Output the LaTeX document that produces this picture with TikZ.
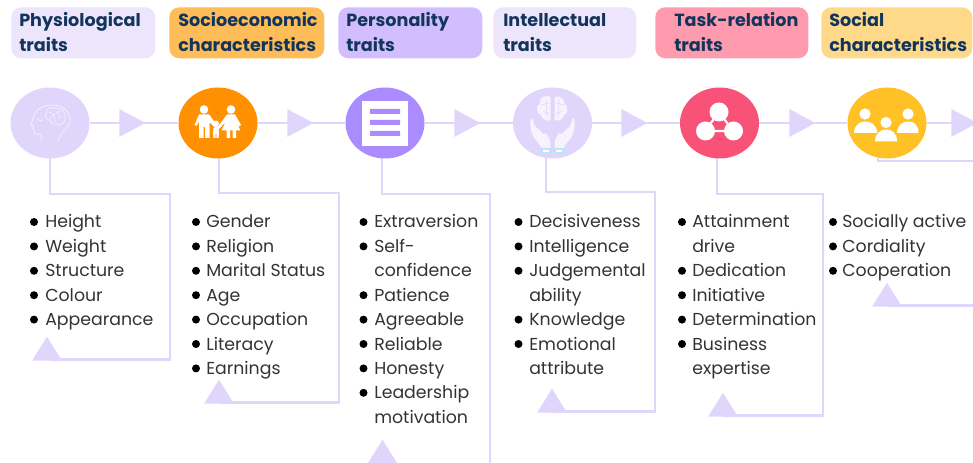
\documentclass[tikz,border=0pt]{standalone}
\usepackage{fontspec}
\setmainfont{Poppins}
\usetikzlibrary{shapes.geometric}
\definecolor{lil}{HTML}{E0D6FB}
\definecolor{pale}{HTML}{EDE5FC}
\definecolor{orh}{HTML}{FFBD59}
\definecolor{orc}{HTML}{FF9100}
\definecolor{puh}{HTML}{D2BEFF}
\definecolor{puc}{HTML}{AA8CFF}
\definecolor{pkh}{HTML}{FF9BAE}
\definecolor{pkc}{HTML}{F85278}
\definecolor{yeh}{HTML}{FFD98A}
\definecolor{yec}{HTML}{FFC125}
\definecolor{navy}{HTML}{12355B}
\definecolor{body}{HTML}{333333}
\definecolor{cuff}{HTML}{BFE3F5}
\definecolor{iconline}{HTML}{F6F2FE}
\tikzset{
  hdrbox/.style={rounded corners=7.5pt,inner sep=0pt,anchor=north west,minimum height=38.25pt},
  hdrtext/.style={anchor=base west,inner sep=0pt,text=navy,font=\fontsize{13.2}{16}\selectfont\bfseries},
  itemtext/.style={anchor=base west,inner sep=0pt,text=body,font=\fontsize{13}{15}\selectfont},
  dot/.style={circle,fill=black,inner sep=0pt,minimum size=6pt},
  disc/.style={ellipse,inner sep=0pt,minimum width=59.25pt,minimum height=53.25pt},
  link/.style={draw=lil,line width=2.2pt},
  elbow/.style={draw=lil,line width=2.2pt},
  flow/.style={isosceles triangle,isosceles triangle stretches,fill=lil,inner sep=0pt,anchor=apex,minimum height=19.5pt,minimum width=21pt},
  backtip/.style={isosceles triangle,isosceles triangle stretches,shape border rotate=90,fill=lil,inner sep=0pt,anchor=lower side,minimum height=18pt,minimum width=22.5pt},
}
\newcommand{\hdr}[7]{%
  \node[hdrbox,fill=#5,minimum width=#3*.75pt] (#1) at (#2,7) {};
  \node[hdrtext] (#1a) at (#4,27) {#6};
  \node[hdrtext] (#1b) at (#4,52) {#7};}
\newcommand{\rowdot}[4]{% name, xdot, xtext, row/text list
  \foreach \r/\t in {#4} {
    \pgfmathsetmacro{\yy}{228+24.4*\r}
    \node[dot] (d#1\r) at (#2,\yy-6) {};
    \node[itemtext] (i#1\r) at (#3,\yy) {\t};}}
\newcommand{\rowplain}[3]{%
  \foreach \r/\t in {#3} {
    \pgfmathsetmacro{\yy}{228+24.4*\r}
    \node[itemtext] (i#1\r) at (#2,\yy) {\t};}}
\begin{document}
\begin{tikzpicture}[x=.75pt,y=-.75pt]
\useasboundingbox (0,0) rectangle (973,463);
\clip (0,0) rectangle (973,463);
% headers
\hdr{h1}{11}{144}{19}{pale}{Physiological}{traits}
\hdr{h2}{169}{155}{178}{orh}{Socioeconomic}{characteristics}
\hdr{h3}{338}{144}{346}{puh}{Personality}{traits}
\hdr{h4}{493}{143}{503}{pale}{Intellectual}{traits}
\hdr{h5}{655}{153}{674}{pkh}{Task-relation}{traits}
\hdr{h6}{821}{151}{829}{yeh}{Social}{characteristics}
% discs
\node[disc] (c1) at (50,123) {};
\node[disc] (c2) at (218,123) {};
\node[disc] (c3) at (385,123) {};
\node[disc] (c4) at (552.5,123) {};
\node[disc] (c5) at (719.5,123) {};
\node[disc] (c6) at (887,123) {};
\coordinate (e) at (973,123);
% horizontal flow
\path[link] (c1) -- (c2) (c2) -- (c3) (c3) -- (c4) (c4) -- (c5) (c5) -- (c6) (c6) -- (e);
\node[flow] (f1) at (146,123) {};
\node[flow] (f2) at (314,123) {};
\node[flow] (f3) at (481,123) {};
\node[flow] (f4) at (648,123) {};
\node[flow] (f5) at (816,123) {};
\node[flow] (f6) at (978,123) {};
% up-pointing tips
\node[backtip] (t1) at (47,361) {};
\node[backtip] (t2) at (219,404) {};
\node[backtip] (t3) at (382.5,464) {};
\node[backtip] (t4) at (552,413) {};
\node[backtip] (t5) at (723,417) {};
\node[backtip] (t6) at (887,307) {};
% elbow connectors
\coordinate (a1) at (50,158);  \coordinate (b1) at (170,194);
\coordinate (a2) at (219,158); \coordinate (b2) at (339,193);
\coordinate (a3) at (382,158); \coordinate (b3) at (490,194);
\coordinate (a4) at (546,158); \coordinate (b4) at (655,192);
\coordinate (a5) at (717,158); \coordinate (b5) at (823,194);
\coordinate (a6) at (878,158);
\coordinate (b6) at (973,161);
\coordinate (g6) at (973,305.5);
\coordinate (k1) at (50,359.5);
\coordinate (k2) at (219,402.5);
\coordinate (k4) at (552,411.5);
\coordinate (k5) at (723,415.5);
\coordinate (k6) at (887,305.5);
\path[elbow,line join=miter] (a1) |- (b1) |- (k1);
\path[elbow,line join=miter] (a2) |- (b2) |- (k2);
\path[elbow,line join=miter] (a3) |- (b3) -- (b3 |- t3.lower side);
\path[elbow,line join=miter] (a4) |- (b4) |- (k4);
\path[elbow,line join=miter] (a5) |- (b5) |- (k5);
\path[elbow,line join=miter] (a6) |- (b6);
\path[elbow] (k6) -- (g6);
% disc fills above the lines
\node[disc,fill=lil] at (c1) {};
\node[disc,fill=orc] at (c2) {};
\node[disc,fill=puc] at (c3) {};
\node[disc,fill=lil] at (c4) {};
\node[disc,fill=pkc] at (c5) {};
\node[disc,fill=yec] at (c6) {};
% icon 1: head with brain
\draw[iconline,line width=.55pt,line cap=round,line join=round]
  (41,142) .. controls (42,138) and (41,135) .. (40,134)
  .. controls (37,135) and (34,134) .. (34,131)
  .. controls (34,128) and (33,127) .. (33,126)
  -- (31,124) .. controls (33,120) and (33,117) .. (34,115)
  .. controls (37,108) and (45,105) .. (53,105)
  .. controls (63,105) and (70,112) .. (70,120)
  .. controls (70,128) and (62,131) .. (60,136)
  .. controls (59,138) and (58,140) .. (58,142);
\draw[iconline,line width=.5pt,line cap=round] (37,119) .. controls (39,121) and (41,121) .. (43,120);
\draw[iconline,line width=.5pt]
  (46,114) .. controls (45,108) and (52,107) .. (54,108)
  .. controls (60,107) and (67,112) .. (65,118)
  .. controls (66,123) and (60,126) .. (57,124)
  .. controls (54,125) and (50,123) .. (50,120)
  .. controls (46,120) and (45,117) .. (46,114) -- cycle;
\draw[iconline,line width=.4pt] (49,112) -- (54,115) -- (59,111) (54,115) -- (55,122) (59,118) -- (63,116) (50,118) -- (54,115) (59,118) -- (59,111);
% icon 2: family
\fill[white] (204,109.5) circle (4.3) (231,109.5) circle (4.3) (216,123.5) circle (3);
\fill[white] (199,114.5) -- (209,114.5) -- (211,117) -- (219,128) -- (217,130) -- (209.5,122) -- (209.5,138) -- (205,138) -- (205,127) -- (203.5,127) -- (203.5,138) -- (199,138) -- (199,122) -- (196.5,126) -- (194.5,125) -- cycle;
\fill[white] (227,114.5) -- (235,114.5) -- (241,125) -- (239,126.5) -- (236,122) -- (240.5,130.5) -- (236,130.5) -- (236,138) -- (232.5,138) -- (232.5,130.5) -- (230,130.5) -- (230,138) -- (226.5,138) -- (226.5,130.5) -- (221.5,130.5) -- (225.5,122) -- (218,130) -- (216.5,128.5) -- cycle;
\fill[white] (213.5,128) -- (218.5,128) -- (219,133) -- (218.5,138) -- (216.5,138) -- (216.2,133) -- (215.8,133) -- (215.5,138) -- (213.5,138) -- (213,133) -- cycle;
% icon 3: list sheet
\fill[white] (362,101) rectangle (408,146);
\fill[puc] (370,109) rectangle (400,114) (370,120) rectangle (400,125) (370,131) rectangle (400,136);
% icon 4: brain in hands
\fill[iconline] (550.5,97) .. controls (544,94) and (539,99) .. (540,103)
  .. controls (535,107) and (537,114) .. (541,115)
  .. controls (542,120) and (548,122) .. (550.5,120) -- cycle;
\fill[iconline] (554.5,97) .. controls (560,95) and (565,99) .. (564,103)
  .. controls (569,107) and (568,114) .. (564,115)
  .. controls (563,120) and (557,122) .. (554.5,120) -- cycle;
\draw[lil,line width=.4pt] (541,105) -- (549,103) (543,111) -- (549,114) (564,105) -- (556,103) (562,111) -- (556,114) (546,99) -- (547,118) (559,99) -- (558,118);
\fill[iconline] (531,118) .. controls (533,118) and (533,120) .. (534,124)
  .. controls (535,128) and (541,130) .. (543,134)
  -- (546,133) .. controls (549,137) and (551,141) .. (550.5,148)
  -- (541,148) .. controls (540,143) and (534,140) .. (532,134)
  .. controls (530,128) and (530,122) .. (531,118) -- cycle;
\fill[iconline] (574,118) .. controls (572,118) and (572,120) .. (571,124)
  .. controls (570,128) and (564,130) .. (562,134)
  -- (559,133) .. controls (556,137) and (554,141) .. (554.5,148)
  -- (564,148) .. controls (565,143) and (571,140) .. (573,134)
  .. controls (575,128) and (575,122) .. (574,118) -- cycle;
\fill[cuff] (540,148) rectangle (551.5,153.5) (553,148) rectangle (565,153.5);
\fill[white] (543,150) rectangle (549,152) (556,150) rectangle (562,152);
% icon 5: three linked circles
\draw[white,line width=1.6pt] (719,112) -- (705,131) -- (733,131) -- cycle;
\fill[white] (719,112) circle (9.5) (705.5,131) circle (9.5) (733.5,131) circle (9.5);
% icon 6: three people
\fill[white] (865,114) circle (5.6) (908,114) circle (5.6) (886,122.5) circle (5.6);
\fill[white] (854,133) .. controls (854,125) and (860,121.5) .. (865,121.5) .. controls (871,121.5) and (877,125) .. (877,133) -- cycle;
\fill[white] (897,133) .. controls (897,125) and (903,121.5) .. (908,121.5) .. controls (914,121.5) and (918.5,125) .. (918.5,133) -- cycle;
\fill[white] (875,141.5) .. controls (875,133) and (881,129.5) .. (886,129.5) .. controls (892,129.5) and (897,133) .. (897,141.5) -- cycle;
% lists
\rowdot{a}{34}{45}{0/Height,1/Weight,2/Structure,3/Colour,4/Appearance}
\rowdot{b}{196}{206}{0/Gender,1/Religion,2/Marital Status,3/Age,4/Occupation,5/Literacy,6/Earnings}
\rowdot{c}{363.5}{374}{0/Extraversion,1/Self-,3/Patience,4/Agreeable,5/Reliable,6/Honesty,7/Leadership}
\rowplain{c}{374}{2/confidence,8/motivation}
\rowdot{d}{518.5}{529}{0/Decisiveness,1/Intelligence,2/Judgemental,4/Knowledge,5/Emotional}
\rowplain{d}{529}{3/ability,6/attribute}
\rowdot{e}{682}{692}{0/Attainment,2/Dedication,3/Initiative,4/Determination,5/Business}
\rowplain{e}{692}{1/drive,6/expertise}
\rowdot{f}{833}{842}{0/Socially active,1/Cordiality,2/Cooperation}
\end{tikzpicture}
\end{document}
